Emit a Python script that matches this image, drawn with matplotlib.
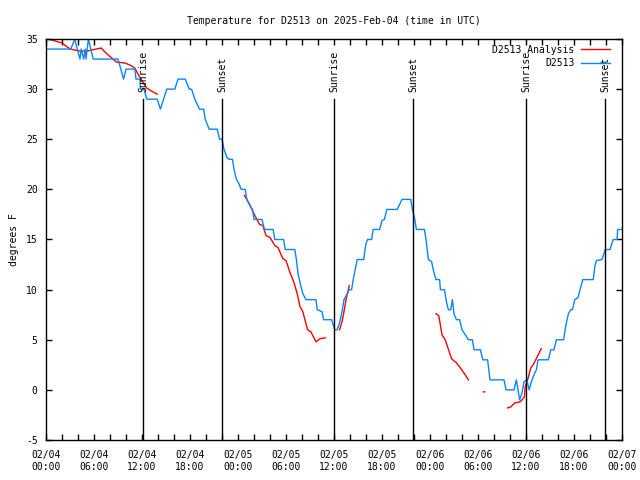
import numpy as np
import pandas as pd
import matplotlib
matplotlib.use('Agg')
import matplotlib.pyplot as plt
import matplotlib.dates as mdates
import matplotlib.transforms as mtransforms

start = pd.Timestamp("2025-02-04 00:00")

# observed temps (hours after start, degrees F)
obs_hours = [0.0, 3.1, 3.6, 3.9, 4.25, 4.4, 4.7, 4.9, 5.0, 5.3, 5.6, 5.9, 9.0, 9.7, 10.0,
             11.1, 11.25, 11.75, 11.8, 12.25, 12.6, 13.9, 14.3, 14.7, 15.1, 16.1, 16.5, 17.4,
             17.9, 18.2, 18.6, 19.2, 19.7, 19.9, 20.4, 21.4, 21.7, 22.0, 22.25, 22.6, 22.9,
             23.3, 23.5, 23.8, 24.1, 24.4, 24.9, 25.1, 25.5, 25.8, 26.0, 27.0, 27.3, 28.4,
             28.6, 29.7, 29.9, 31.1, 31.3, 31.5, 31.9, 32.1, 32.5, 33.75, 33.9, 34.5, 34.7,
             35.7, 36.1, 36.4, 36.7, 37.0, 37.25, 37.6, 37.9, 38.2, 38.4, 38.8, 38.9, 39.7,
             40.0, 40.2, 40.7, 40.9, 41.7, 42.0, 42.3, 42.6, 43.9, 44.5, 45.6, 45.8, 46.1,
             46.3, 47.3, 47.5, 47.8, 48.2, 48.4, 48.75, 49.2, 49.3, 49.8, 50.1, 50.3, 50.6,
             50.8, 51.0, 51.3, 51.7, 52.0, 52.4, 52.8, 53.3, 53.5, 54.3, 54.6, 55.2, 55.5,
             57.25, 57.5, 58.5, 58.8, 59.0, 59.2, 59.5, 59.75, 60.1, 60.4, 60.7, 61.1, 61.3,
             61.5, 62.8, 63.1, 63.5, 63.8, 64.7, 65.0, 65.3, 65.6, 65.8, 66.1, 66.5, 66.75,
             67.1, 68.4, 68.6, 68.8, 69.5, 69.9, 70.5, 70.9, 71.4, 71.45, 72.0]
obs_temp = [34, 34, 35, 34, 33, 34, 33, 34, 33, 35, 34, 33, 33, 31, 32,
            32, 31, 31, 30, 30, 29, 29, 28, 29, 30, 30, 31, 31,
            30, 30, 29, 28, 28, 27, 26, 26, 25, 25, 24, 23.2, 23,
            23, 22, 21, 20.6, 20, 20, 19, 18.4, 18, 17, 17, 16, 16,
            15, 15, 14, 14, 13, 11.6, 10.2, 9.6, 9, 9, 8, 7.8, 7,
            7, 6, 6, 6.7, 7.8, 9, 9.5, 10, 10, 11, 12.6, 13, 13,
            14.6, 15, 15, 16, 16, 16.9, 17, 18, 18, 19, 19, 18, 17,
            16, 16, 15, 13, 12.8, 12, 11, 11, 10, 10, 8.6, 8, 8,
            9, 7.6, 7, 7, 6, 5.5, 5, 5, 4, 4, 3, 3, 1,
            1, 0, 0, 1, 0, -1, -0.3, 0.8, 1, 0, 0.9, 1.7, 2,
            3, 3, 4, 4, 5, 5, 6.5, 7.6, 8, 8, 9, 9.2, 10,
            11, 11, 12.3, 12.9, 13, 14, 14, 15, 15, 16, 16]

# analysis temps, nan = gap between runs
ana_hours = [0.3, 2.0, 3.0, 4.25, 5.1, 6.3, 6.9, 7.5, 8.8, 9.9, 10.5, 11.1, 11.5, 12.1, 12.6, 13.2, 13.9, 14.0,
             24.8, 25.1, 25.5, 26.1, 26.7, 27.1, 27.5, 28.0, 28.6, 29.0, 29.6, 30.0, 30.5, 31.0, 31.4,
             31.75, 32.1, 32.7, 33.1, 33.75, 34.25, 34.9, 35.0,
             36.7, 37.0, 37.25, 37.5, 37.8, 37.9, 38.0,
             48.75, 49.1, 49.5, 49.9, 50.7, 51.3, 51.7, 52.4, 52.8, 53.0,
             54.7, 54.85, 55.0,
             57.7, 58.1, 58.6, 59.25, 59.5, 59.8, 59.9, 60.2, 60.6, 60.9, 61.4, 61.9]
ana_temp = [35, 34.6, 34, 33.8, 33.8, 34, 34.1, 33.6, 32.7, 32.6, 32.4, 32.1, 31.5, 30.7, 30.1, 29.8, 29.5, np.nan,
            19.4, 19, 18.4, 17.4, 16.5, 16.4, 15.4, 15.2, 14.4, 14.2, 13.1, 12.9, 11.7, 10.7, 9.6,
            8.3, 7.8, 6, 5.8, 4.8, 5.1, 5.2, np.nan,
            6, 6.8, 7.8, 9, 10, 10.4, np.nan,
            7.6, 7.4, 5.5, 5, 3.1, 2.7, 2.3, 1.5, 1.0, np.nan,
            -0.2, -0.2, np.nan,
            -1.8, -1.7, -1.3, -1.2, -1.0, -0.7, 0.3, 1, 2.2, 2.5, 3.3, 4.1]

sun_times = ["2025-02-04 12:07", "2025-02-04 22:00", "2025-02-05 12:00",
             "2025-02-05 21:53", "2025-02-06 12:00", "2025-02-06 21:53"]
sun_labels = ["Sunrise", "Sunset", "Sunrise", "Sunset", "Sunrise", "Sunset"]

plt.rcParams['font.family'] = ['DejaVu Sans Mono']
plt.rcParams['axes.unicode_minus'] = False
fs = 7

obs_t = start + pd.to_timedelta(obs_hours, unit="h")
ana_t = start + pd.to_timedelta(ana_hours, unit="h")

fig = plt.figure(figsize=(6.4, 4.8), dpi=100)
ax = fig.add_axes([46/640, 40/480, 576/640, 401/480])

ax.plot(ana_t, ana_temp, color="#ff0000", lw=1, label="D2513 Analysis")
ax.plot(obs_t, obs_temp, color="#0a84ff", lw=1, label="D2513")

trans = mtransforms.blended_transform_factory(ax.transData, ax.transAxes)
for t, lab in zip(sun_times, sun_labels):
    x = mdates.date2num(pd.Timestamp(t))
    ax.plot([x, x], [0, 0.85], color="black", lw=1, transform=trans)
    ax.text(x, 0.868, lab, rotation=90, ha="center", va="bottom", fontsize=fs, transform=trans)

ax.set_xlim(start, start + pd.Timedelta(hours=72))
ax.set_ylim(-5, 35)
ax.set_yticks(range(-5, 36, 5))
ax.xaxis.set_major_locator(mdates.HourLocator(byhour=[0, 6, 12, 18]))
ax.xaxis.set_minor_locator(mdates.HourLocator(interval=2))
ax.xaxis.set_major_formatter(mdates.DateFormatter("%m/%d\n%H:%M"))
ax.tick_params(which="both", direction="in", top=True, right=True, labelsize=fs, width=1)
ax.tick_params(which="major", length=4)
ax.tick_params(axis="x", which="major", pad=7.5)
ax.tick_params(axis="y", which="major", pad=6)
ax.tick_params(which="minor", length=4)
for s in ax.spines.values():
    s.set_linewidth(1)

ax.set_title("Temperature for D2513 on 2025-Feb-04 (time in UTC)", fontsize=fs, pad=11)
ax.set_ylabel("degrees F", fontsize=fs, labelpad=5)

ax.legend(loc="upper right", bbox_to_anchor=(0.99, 1.0), frameon=False, markerfirst=False,
          fontsize=fs, handlelength=3.0, handletextpad=0.7, borderaxespad=0, borderpad=0.6,
          labelspacing=0.35)

fig.savefig("out.png", dpi=100)
